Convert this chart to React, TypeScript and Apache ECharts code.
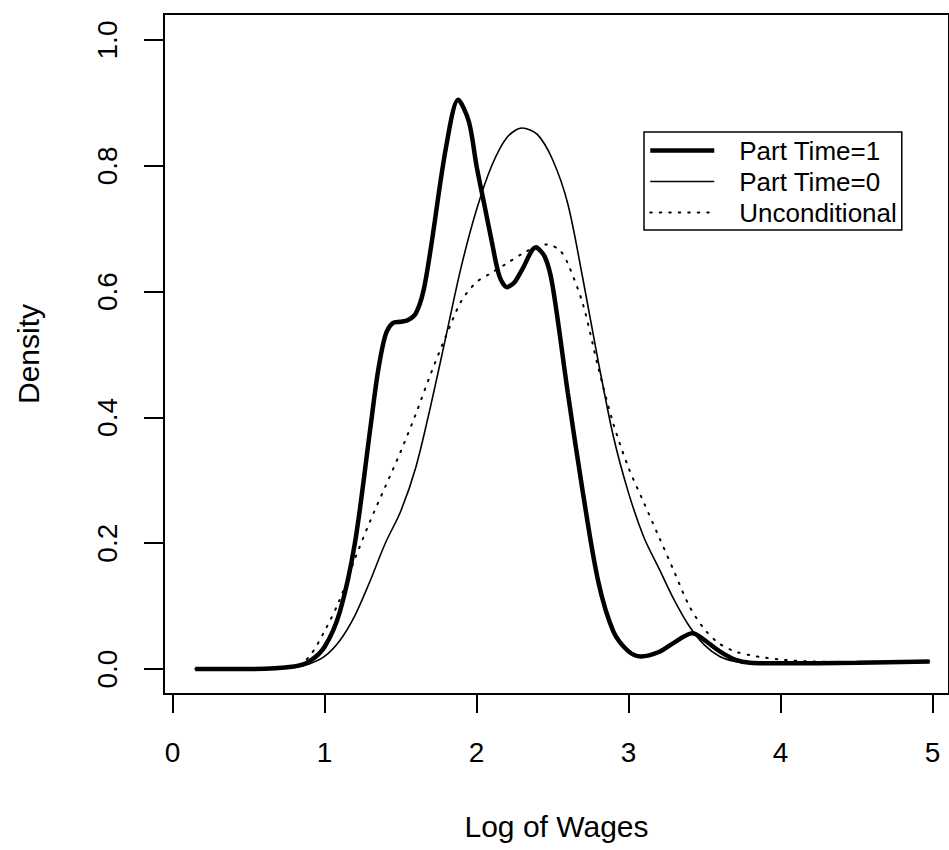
import React, { useEffect, useRef } from "react";
import * as echarts from "echarts";

// ---- data ----
const seriesNames = ["Part Time=1", "Part Time=0", "Unconditional"];

const xTicks = [0, 1, 2, 3, 4, 5];
const yTicks = [0, 0.2, 0.4, 0.6, 0.8, 1.0];

const pt1X = [0.15, 0.5, 0.8, 0.9, 1.0, 1.1, 1.2, 1.3, 1.35, 1.4, 1.45, 1.5, 1.55, 1.6, 1.65, 1.7, 1.8, 1.88, 1.95, 2.0, 2.05, 2.1, 2.15, 2.2, 2.25, 2.3, 2.39, 2.45, 2.5, 2.6, 2.7, 2.8, 2.9, 3.0, 3.08, 3.2, 3.3, 3.42, 3.5, 3.6, 3.7, 3.8, 4.0, 4.5, 4.98];
const pt1Y = [0, 0, 0.004, 0.012, 0.035, 0.09, 0.2, 0.38, 0.47, 0.53, 0.55, 0.552, 0.555, 0.565, 0.6, 0.67, 0.83, 0.905, 0.87, 0.8, 0.74, 0.68, 0.625, 0.607, 0.615, 0.635, 0.67, 0.655, 0.61, 0.44, 0.28, 0.14, 0.06, 0.028, 0.02, 0.027, 0.042, 0.057, 0.046, 0.028, 0.015, 0.01, 0.009, 0.01, 0.012];

const pt0X = [0.15, 0.5, 0.8, 0.9, 1.0, 1.1, 1.2, 1.3, 1.4, 1.5, 1.6, 1.7, 1.8, 1.9, 2.0, 2.1, 2.2, 2.3, 2.4, 2.5, 2.6, 2.7, 2.8, 2.9, 3.0, 3.1, 3.2, 3.3, 3.4, 3.5, 3.6, 3.7, 3.8, 4.0, 4.5, 4.98];
const pt0Y = [0, 0, 0.003, 0.008, 0.02, 0.045, 0.085, 0.14, 0.2, 0.25, 0.32, 0.42, 0.53, 0.64, 0.73, 0.8, 0.845, 0.86, 0.85, 0.81, 0.74, 0.62, 0.49, 0.37, 0.28, 0.21, 0.16, 0.11, 0.068, 0.038, 0.02, 0.012, 0.009, 0.009, 0.01, 0.012];

const ucX = [0.15, 0.5, 0.8, 0.9, 1.0, 1.1, 1.2, 1.3, 1.4, 1.5, 1.6, 1.7, 1.8, 1.9, 2.0, 2.1, 2.2, 2.3, 2.4, 2.47, 2.55, 2.6, 2.7, 2.8, 2.9, 3.0, 3.1, 3.2, 3.3, 3.4, 3.5, 3.6, 3.7, 3.8, 3.9, 4.0, 4.2, 4.5, 4.98];
const ucY = [0, 0, 0.003, 0.02, 0.06, 0.11, 0.175, 0.235, 0.29, 0.345, 0.405, 0.47, 0.53, 0.585, 0.615, 0.63, 0.645, 0.66, 0.672, 0.675, 0.665, 0.645, 0.58, 0.48, 0.39, 0.32, 0.265, 0.21, 0.155, 0.1, 0.063, 0.04, 0.028, 0.022, 0.018, 0.015, 0.012, 0.011, 0.012];

const FONT = "'Liberation Sans', Arial, sans-serif";

function pairs(xs: number[], ys: number[]) {
  return xs.map((x, i) => [x, ys[i]]);
}

export default function App() {
  const ref = useRef<HTMLDivElement>(null);
  useEffect(() => {
    if (!ref.current) return;
    const chart = echarts.init(ref.current, null, { renderer: "svg" });
    chart.setOption({
      animation: false,
      backgroundColor: "#fff",
      grid: {
        show: true,
        left: 164,
        top: 14,
        right: -3,
        bottom: 156,
        borderColor: "#000",
        borderWidth: 2,
        backgroundColor: "transparent",
      },
      legend: {
        data: seriesNames,
        orient: "vertical",
        left: 644,
        top: 132,
        borderColor: "#000",
        borderWidth: 1.5,
        padding: [3, 5, 2, 4],
        itemWidth: 64,
        itemHeight: 14,
        itemGap: 0,
        selectedMode: false,
        itemStyle: { opacity: 0 },
        lineStyle: { width: "inherit", type: "inherit" },
        textStyle: {
          fontFamily: FONT,
          fontSize: 26,
          lineHeight: 31,
          color: "#000",
          padding: [0, 0, 0, 20],
        },
      },
      xAxis: {
        type: "value",
        min: -0.0557,
        max: 5.108,
        axisLine: { show: false, onZero: false },
        splitLine: { show: false },
        axisTick: {
          show: true,
          customValues: xTicks,
          length: 19,
          lineStyle: { color: "#000", width: 2 },
        },
        axisLabel: {
          customValues: xTicks,
          fontFamily: FONT,
          fontSize: 28,
          color: "#000",
          margin: 44,
        },
        name: "Log of Wages",
        nameLocation: "middle",
        nameGap: 117,
        nameTextStyle: { fontFamily: FONT, fontSize: 30, color: "#000" },
      },
      yAxis: {
        type: "value",
        min: -0.0397,
        max: 1.0413,
        axisLine: { show: false, onZero: false },
        splitLine: { show: false },
        axisTick: {
          show: true,
          customValues: yTicks,
          length: 20,
          lineStyle: { color: "#000", width: 2 },
        },
        axisLabel: {
          customValues: yTicks,
          rotate: 90,
          formatter: (v: number) => v.toFixed(1),
          fontFamily: FONT,
          fontSize: 28,
          color: "#000",
          margin: 43,
        },
        name: "Density",
        nameLocation: "middle",
        nameGap: 121,
        nameTextStyle: { fontFamily: FONT, fontSize: 30, color: "#000" },
      },
      series: [
        {
          name: seriesNames[0],
          type: "line",
          symbol: "none",
          smooth: 0.3,
          data: pairs(pt1X, pt1Y),
          lineStyle: { color: "#000", width: 4.5 },
          itemStyle: { color: "#000" },
          z: 3,
        },
        {
          name: seriesNames[1],
          type: "line",
          symbol: "none",
          smooth: 0.3,
          data: pairs(pt0X, pt0Y),
          lineStyle: { color: "#000", width: 1.6 },
          itemStyle: { color: "#000" },
          z: 2,
        },
        {
          name: seriesNames[2],
          type: "line",
          symbol: "none",
          smooth: 0.3,
          data: pairs(ucX, ucY),
          lineStyle: { color: "#000", width: 2, type: [1.5, 8], cap: "round" },
          itemStyle: { color: "#000" },
          z: 1,
        },
      ],
    });
    return () => chart.dispose();
  }, []);
  return (
    <div
      ref={ref}
      style={{ position: "absolute", left: 0, top: 0, width: 949, height: 850 }}
    />
  );
}
